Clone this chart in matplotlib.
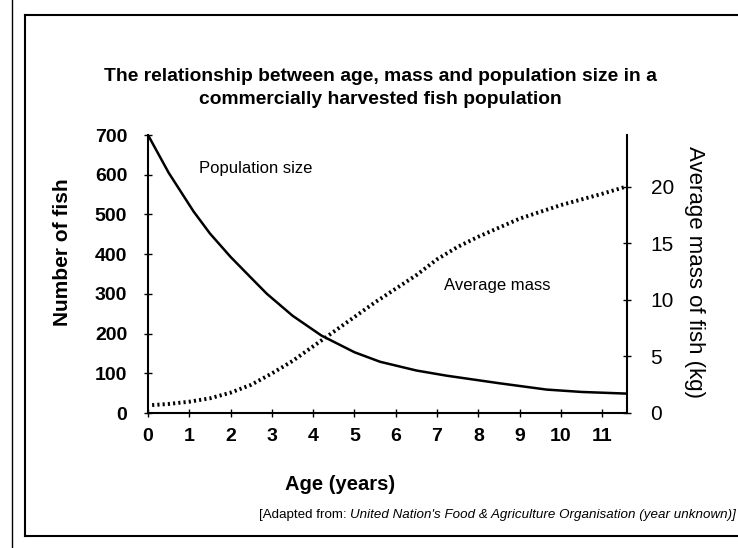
import matplotlib.pyplot as plt
from matplotlib.lines import Line2D

plt.rcParams["font.family"] = ["Liberation Sans", "DejaVu Sans"]

# Population size (number of fish) against age
pop_age = [0, 0.5, 1.1, 1.5, 2.0, 2.5, 2.88, 3.5, 4.2, 5.0, 5.62, 6.5, 7.23,
           8.5, 9.65, 10.5, 11.55]
pop_size = [700, 605, 508, 452, 393, 340, 300, 245, 195, 153, 129, 107, 94,
            75, 59, 53, 49]

# Average mass of fish (kg) against age
mass_age = [0.1, 0.5, 1, 1.5, 2, 2.5, 3, 3.5, 4, 4.5, 5, 5.5, 6, 6.5, 7, 7.5, 8,
            8.5, 9, 9.5, 10, 10.5, 11, 11.55]
mass_kg = [0.7, 0.8, 1.0, 1.3, 1.8, 2.5, 3.5, 4.6, 5.9, 7.2, 8.5, 9.8, 11.0, 12.2,
           13.6, 14.7, 15.6, 16.4, 17.2, 17.8, 18.4, 18.9, 19.4, 20.0]

age_ticks = list(range(0, 12))
pop_ticks = [0, 100, 200, 300, 400, 500, 600, 700]
mass_ticks = [0, 5, 10, 15, 20]

W, H = 738, 548
fig = plt.figure(figsize=(W / 100, H / 100), dpi=100)
ax = fig.add_axes([148 / W, 1 - 413 / H, 479 / W, 278 / H])
ax2 = ax.twinx()

ax.plot(pop_age, pop_size, color="black", lw=1.8)
ax2.plot(mass_age, mass_kg, color="black", lw=2.8, ls=(0, (0.55, 0.8)))

ax.set_xlim(0, 11.6)
ax.set_ylim(0, 700)
ax2.set_ylim(0, 24.6)

ax.set_xticks(age_ticks)
ax.set_yticks(pop_ticks)
ax2.set_yticks(mass_ticks)

for a in (ax, ax2):
    a.spines["top"].set_visible(False)
    for s in a.spines.values():
        s.set_linewidth(1.5)
ax.spines["right"].set_visible(False)
ax2.spines["left"].set_visible(False)
ax2.spines["bottom"].set_visible(False)

ax.tick_params(axis="y", direction="inout", length=6, width=1, pad=12, labelsize=14)
ax.tick_params(axis="x", direction="inout", length=6, width=1, pad=8, labelsize=14)
ax2.tick_params(axis="y", direction="inout", length=6, width=1, pad=14, labelsize=15)
for lab in ax.get_xticklabels() + ax.get_yticklabels():
    lab.set_fontweight("bold")

ax.set_ylabel("Number of fish", fontsize=15, fontweight="bold", va="center")
ax.yaxis.set_label_coords((62 - 148) / 479, (413 - 252) / 278)
ax.set_xlabel("Age (years)", fontsize=14.5, fontweight="bold", va="center")
ax.xaxis.set_label_coords((340 - 148) / 479, (413 - 485) / 278)
ax2.set_ylabel("Average mass of fish (kg)", fontsize=16, rotation=-90, va="center")
ax2.yaxis.set_label_coords((695 - 148) / 479, (413 - 272) / 278)

ax.text(2.6, 615, "Population size", fontsize=12, ha="center", va="center")
ax.text(8.45, 322, "Average mass", fontsize=12, ha="center", va="center")

fig.text(0.515, 1 - 88 / H,
         "The relationship between age, mass and population size in a\n"
         "commercially harvested fish population",
         ha="center", va="center", fontsize=13.9, fontweight="bold", linespacing=1.5)

src = fig.text(736 / W, 1 - 515 / H,
               "United Nation's Food & Agriculture Organisation (year unknown)]",
               fontsize=9.6, style="italic", ha="right", va="center")
ax.annotate("[Adapted from: ", xy=(0, 0.5), xycoords=src, va="center", ha="right",
            fontsize=9.6, annotation_clip=False)

# page frame
fig.add_artist(Line2D([12 / W, 12 / W], [0, 1], color="black", lw=1))
fig.add_artist(Line2D([25 / W, 25 / W], [1 - 536 / H, 1 - 15 / H], color="black", lw=1.5))
fig.add_artist(Line2D([25 / W, 1], [1 - 15 / H, 1 - 15 / H], color="black", lw=1.5))
fig.add_artist(Line2D([25 / W, 1], [1 - 536 / H, 1 - 536 / H], color="black", lw=1.5))

fig.savefig("out.png", dpi=100)
